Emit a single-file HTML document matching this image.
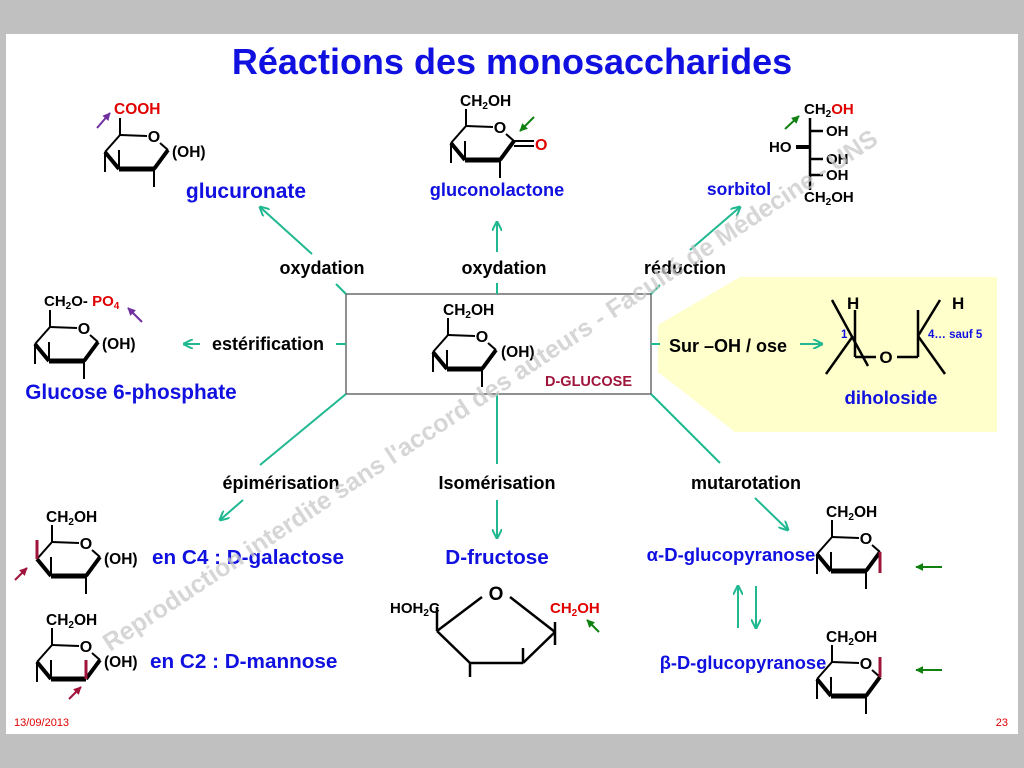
<!DOCTYPE html>
<html><head><meta charset="utf-8"><style>
html,body{margin:0;padding:0;background:#c0c0c0;}
svg{display:block;font-family:"Liberation Sans",Arial,sans-serif;}
.b{font-weight:bold;}
</style></head><body>
<svg width="1024" height="768" viewBox="0 0 1024 768" xmlns="http://www.w3.org/2000/svg">
<defs>
<g id="ring" stroke="#000" fill="none" stroke-linecap="butt">
<line x1="0" y1="0" x2="27" y2="1" stroke-width="2"/>
<line x1="40" y1="8" x2="48" y2="15" stroke-width="2"/>
<line x1="48" y1="15" x2="34" y2="34" stroke-width="4"/>
<line x1="34" y1="34" x2="-1" y2="34" stroke-width="5"/>
<line x1="-1" y1="34" x2="-15" y2="17" stroke-width="4"/>
<line x1="-15" y1="17" x2="0" y2="0" stroke-width="2"/>
<line x1="0" y1="0" x2="0" y2="-17" stroke-width="2"/>
</g>
<g id="ringO"><use href="#ring"/><text x="34" y="7" font-size="16" text-anchor="middle" class="b">O</text></g>
<g id="std" stroke="#000" stroke-width="2">
<line x1="-15" y1="17" x2="-15" y2="37"/>
<line x1="-1" y1="34" x2="-1" y2="15"/>
<line x1="34" y1="34" x2="34" y2="52"/>
</g>
<marker id="ag" viewBox="0 0 10 10" refX="9" refY="5" markerWidth="10" markerHeight="10" markerUnits="userSpaceOnUse" orient="auto"><path d="M0,0 L10,5 L0,10" fill="none" stroke="#20b890" stroke-width="2"/></marker>
<marker id="sm" viewBox="0 0 10 10" refX="9" refY="5" markerWidth="8" markerHeight="8" markerUnits="userSpaceOnUse" orient="auto"><path d="M0,0 L10,5 L0,10 z" fill="context-stroke"/></marker>
</defs>

<rect x="6" y="34" width="1012" height="700" fill="#fff"/>

<text x="512" y="74" font-size="36" text-anchor="middle" class="b" fill="#1010e0">Réactions des monosaccharides</text>

<polygon points="658,325 740,277 997,277 997,432 735,432 658,372" fill="#ffffcc"/>

<rect x="346" y="294" width="305" height="100" fill="none" stroke="#555" stroke-width="1.3"/>

<g stroke="#20b890" stroke-width="2" fill="none">
<line x1="346" y1="294" x2="336" y2="284"/>
<line x1="312" y1="254" x2="260" y2="207" marker-end="url(#ag)"/>
<line x1="497" y1="294" x2="497" y2="283"/>
<line x1="497" y1="252" x2="497" y2="222" marker-end="url(#ag)"/>
<line x1="651" y1="294" x2="660" y2="285"/>
<line x1="690" y1="250" x2="740" y2="207" marker-end="url(#ag)"/>
<line x1="346" y1="344" x2="336" y2="344"/>
<line x1="200" y1="344" x2="184" y2="344" marker-end="url(#ag)"/>
<line x1="651" y1="344" x2="660" y2="344"/>
<line x1="800" y1="344" x2="822" y2="344" marker-end="url(#ag)"/>
<line x1="346" y1="394" x2="260" y2="465"/>
<line x1="243" y1="500" x2="220" y2="520" marker-end="url(#ag)"/>
<line x1="497" y1="394" x2="497" y2="464"/>
<line x1="497" y1="500" x2="497" y2="538" marker-end="url(#ag)"/>
<line x1="651" y1="394" x2="720" y2="463"/>
<line x1="755" y1="498" x2="788" y2="530" marker-end="url(#ag)"/>
<line x1="738" y1="628" x2="738" y2="586" marker-end="url(#ag)"/>
<line x1="756" y1="586" x2="756" y2="628" marker-end="url(#ag)"/>
</g>

<g font-size="18" class="b" text-anchor="middle" fill="#000">
<text x="322" y="274">oxydation</text>
<text x="504" y="274">oxydation</text>
<text x="685" y="274">réduction</text>
<text x="268" y="350">estérification</text>
<text x="728" y="352">Sur –OH / ose</text>
<text x="281" y="489">épimérisation</text>
<text x="497" y="489">Isomérisation</text>
<text x="746" y="489">mutarotation</text>
</g>

<g transform="translate(448,335)"><use href="#ringO"/><use href="#std"/>
<text x="-5" y="-20" font-size="15.5" class="b">CH<tspan font-size="10" dy="3">2</tspan><tspan dy="-3">OH</tspan></text>
<text x="53" y="22" font-size="15.5" class="b">(OH)</text></g>
<text x="545" y="386" font-size="14.5" class="b" fill="#a0143c">D-GLUCOSE</text>

<g transform="translate(120,135)"><use href="#ringO"/><use href="#std"/>
<text x="-6" y="-21" font-size="15.5" class="b" fill="#e00000">COOH</text>
<text x="52" y="22" font-size="15.5" class="b">(OH)</text></g>
<line x1="97" y1="128" x2="110" y2="113" stroke="#7030a0" stroke-width="2" marker-end="url(#sm)"/>
<text x="246" y="198" font-size="21" class="b" text-anchor="middle" fill="#1010e0">glucuronate</text>

<g transform="translate(466,126)"><use href="#ringO"/><use href="#std"/>
<text x="-6" y="-20" font-size="15.5" class="b">CH<tspan font-size="10" dy="3">2</tspan><tspan dy="-3">OH</tspan></text>
<line x1="48" y1="15" x2="68" y2="15" stroke="#000" stroke-width="2"/>
<line x1="48" y1="20" x2="68" y2="20" stroke="#000" stroke-width="2"/>
<text x="69" y="24" font-size="16" class="b" fill="#e00000">O</text></g>
<line x1="534" y1="117" x2="520" y2="131" stroke="#108010" stroke-width="2" marker-end="url(#sm)"/>
<text x="497" y="196" font-size="18.2" class="b" text-anchor="middle" fill="#1010e0">gluconolactone</text>

<g stroke="#000" stroke-width="2.5">
<line x1="810" y1="118" x2="810" y2="190"/>
<line x1="810" y1="131" x2="823" y2="131"/>
<line x1="810" y1="159" x2="823" y2="159"/>
<line x1="810" y1="175" x2="823" y2="175"/>
<line x1="796" y1="147" x2="810" y2="147" stroke-width="4"/>
</g>
<g font-size="15" class="b">
<text x="804" y="114">CH<tspan font-size="10" dy="3">2</tspan><tspan dy="-3" fill="#e00000">OH</tspan></text>
<text x="826" y="136">OH</text>
<text x="769" y="152">HO</text>
<text x="826" y="164">OH</text>
<text x="826" y="180">OH</text>
<text x="804" y="202">CH<tspan font-size="10" dy="3">2</tspan><tspan dy="-3">OH</tspan></text>
</g>
<line x1="785" y1="129" x2="799" y2="116" stroke="#108010" stroke-width="2" marker-end="url(#sm)"/>
<text x="739" y="195" font-size="17.5" class="b" text-anchor="middle" fill="#1010e0">sorbitol</text>

<g transform="translate(50,327)"><use href="#ringO"/><use href="#std"/>
<text x="-6" y="-21" font-size="15" class="b">CH<tspan font-size="10" dy="3">2</tspan><tspan dy="-3">O- </tspan><tspan fill="#e00000">PO</tspan><tspan font-size="10" dy="3" fill="#e00000">4</tspan></text>
<text x="52" y="22" font-size="15.5" class="b">(OH)</text></g>
<line x1="142" y1="322" x2="128" y2="308" stroke="#7030a0" stroke-width="2" marker-end="url(#sm)"/>
<text x="131" y="399" font-size="20.8" class="b" text-anchor="middle" fill="#1010e0">Glucose 6-phosphate</text>

<g stroke="#000" stroke-width="2.5" fill="none">
<line x1="832" y1="300" x2="868" y2="366"/>
<line x1="826" y1="374" x2="853" y2="336"/>
<line x1="855" y1="310" x2="855" y2="357"/>
<line x1="855" y1="357" x2="876" y2="357"/>
<line x1="897" y1="357" x2="918" y2="357"/>
<line x1="918" y1="310" x2="918" y2="357"/>
<line x1="940" y1="300" x2="918" y2="336"/>
<line x1="918" y1="336" x2="945" y2="374"/>
</g>
<text x="847" y="309" font-size="17" class="b">H</text>
<text x="952" y="309" font-size="17" class="b">H</text>
<text x="886" y="363" font-size="17" class="b" text-anchor="middle">O</text>
<text x="841" y="338" font-size="11.5" class="b" fill="#1010e0">1</text>
<text x="928" y="338" font-size="11.5" class="b" fill="#1010e0">4… sauf 5</text>
<text x="891" y="404" font-size="18.6" class="b" text-anchor="middle" fill="#1010e0">diholoside</text>

<g transform="translate(52,542)"><use href="#ringO"/>
<line x1="-15" y1="17" x2="-15" y2="-2" stroke="#a0143c" stroke-width="3"/>
<line x1="-1" y1="34" x2="-1" y2="15" stroke="#000" stroke-width="2"/>
<line x1="34" y1="34" x2="34" y2="52" stroke="#000" stroke-width="2"/>
<text x="-6" y="-20" font-size="15.5" class="b">CH<tspan font-size="10" dy="3">2</tspan><tspan dy="-3">OH</tspan></text>
<text x="52" y="22" font-size="15.5" class="b">(OH)</text></g>
<line x1="15" y1="580" x2="27" y2="568" stroke="#a0143c" stroke-width="2" marker-end="url(#sm)"/>
<text x="152" y="564" font-size="20.7" class="b" fill="#1010e0">en C4 : D-galactose</text>

<g transform="translate(52,645)"><use href="#ringO"/>
<line x1="-15" y1="17" x2="-15" y2="37" stroke="#000" stroke-width="2"/>
<line x1="-1" y1="34" x2="-1" y2="15" stroke="#000" stroke-width="2"/>
<line x1="34" y1="34" x2="34" y2="15" stroke="#a0143c" stroke-width="3"/>
<text x="-6" y="-20" font-size="15.5" class="b">CH<tspan font-size="10" dy="3">2</tspan><tspan dy="-3">OH</tspan></text>
<text x="52" y="22" font-size="15.5" class="b">(OH)</text></g>
<line x1="69" y1="699" x2="81" y2="687" stroke="#a0143c" stroke-width="2" marker-end="url(#sm)"/>
<text x="150" y="668" font-size="20.7" class="b" fill="#1010e0">en C2 : D-mannose</text>

<text x="497" y="564" font-size="20.7" class="b" text-anchor="middle" fill="#1010e0">D-fructose</text>
<g stroke="#000" stroke-width="2.5" fill="none">
<line x1="437" y1="631" x2="482" y2="597"/>
<line x1="510" y1="597" x2="555" y2="632"/>
<line x1="437" y1="631" x2="470" y2="663"/>
<line x1="470" y1="663" x2="523" y2="663"/>
<line x1="523" y1="663" x2="555" y2="632"/>
<line x1="437" y1="607" x2="437" y2="631"/>
<line x1="555" y1="622" x2="555" y2="645"/>
<line x1="523" y1="648" x2="523" y2="663"/>
<line x1="470" y1="663" x2="470" y2="677"/>
</g>
<text x="496" y="600" font-size="19" class="b" text-anchor="middle">O</text>
<text x="390" y="613" font-size="15" class="b">HOH<tspan font-size="10" dy="3">2</tspan><tspan dy="-3">C</tspan></text>
<text x="550" y="613" font-size="15" class="b" fill="#e00000">CH<tspan font-size="10" dy="3">2</tspan><tspan dy="-3">OH</tspan></text>
<line x1="599" y1="632" x2="587" y2="620" stroke="#108010" stroke-width="2" marker-end="url(#sm)"/>

<g transform="translate(832,537)"><use href="#ringO"/>
<line x1="-15" y1="17" x2="-15" y2="37" stroke="#000" stroke-width="2"/>
<line x1="-1" y1="34" x2="-1" y2="15" stroke="#000" stroke-width="2"/>
<line x1="34" y1="34" x2="34" y2="52" stroke="#000" stroke-width="2"/>
<line x1="48" y1="15" x2="48" y2="36" stroke="#a0143c" stroke-width="3"/>
<text x="-6" y="-20" font-size="15.5" class="b">CH<tspan font-size="10" dy="3">2</tspan><tspan dy="-3">OH</tspan></text></g>
<line x1="942" y1="567" x2="916" y2="567" stroke="#108010" stroke-width="2" marker-end="url(#sm)"/>
<text x="731" y="561" font-size="18.5" class="b" text-anchor="middle" fill="#1010e0">α-D-glucopyranose</text>

<g transform="translate(832,662)"><use href="#ringO"/>
<line x1="-15" y1="17" x2="-15" y2="37" stroke="#000" stroke-width="2"/>
<line x1="-1" y1="34" x2="-1" y2="15" stroke="#000" stroke-width="2"/>
<line x1="34" y1="34" x2="34" y2="52" stroke="#000" stroke-width="2"/>
<line x1="48" y1="15" x2="48" y2="-5" stroke="#a0143c" stroke-width="3"/>
<text x="-6" y="-20" font-size="15.5" class="b">CH<tspan font-size="10" dy="3">2</tspan><tspan dy="-3">OH</tspan></text></g>
<line x1="942" y1="670" x2="916" y2="670" stroke="#108010" stroke-width="2" marker-end="url(#sm)"/>
<text x="743" y="669" font-size="18.3" class="b" text-anchor="middle" fill="#1010e0">β-D-glucopyranose</text>

<text x="0" y="0" transform="translate(110,652) rotate(-33.5)" font-size="25" class="b" fill="#c8c8c8" fill-opacity="0.75">Reproduction interdite  sans l'accord des auteurs - Faculté de Médecine - UNS</text>

<text x="14" y="726" font-size="11" fill="#e00000">13/09/2013</text>
<text x="1008" y="726" font-size="11" fill="#e00000" text-anchor="end">23</text>
</svg>
</body></html>
